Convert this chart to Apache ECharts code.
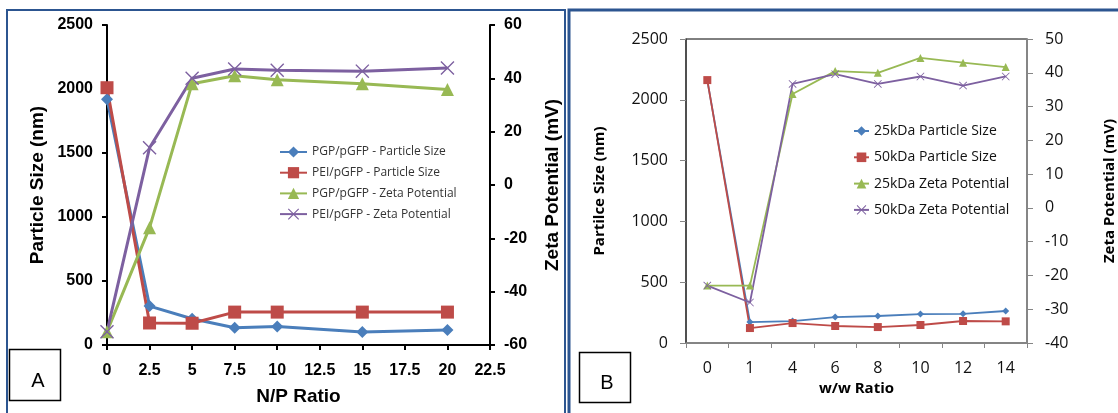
<!DOCTYPE html>
<html>
<head>
<meta charset="utf-8">
<script src="https://cdn.jsdelivr.net/npm/echarts@6/dist/echarts.min.js"></script>
<style>
  html, body { margin: 0; padding: 0; background: #fff; }
  #main { width: 1118px; height: 413px; }
</style>
</head>
<body>
<div id="main"></div>
<script>
// Panel A - N/P ratio
var npRatio = [0, 2.5, 5, 7.5, 10, 15, 20];
var pgpSize = [1920, 304, 205, 135, 145, 101, 117];
var peiSize = [2010, 172, 170, 257, 257, 257, 257];
var pgpZeta = [-55, -16, 38, 41, 39.5, 38, 35.8];
var peiZeta = [-55, 14, 40, 43.5, 43, 42.7, 43.9];

// Panel B - w/w ratio
var wwRatio = ['0', '1', '4', '6', '8', '10', '12', '14'];
var kda25Size = [2160, 172, 180, 213, 222, 238, 240, 263];
var kda50Size = [2162, 123, 164, 140, 131, 148, 181, 178];
var kda25Zeta = [-23, -23, 33.7, 40.5, 40, 44.4, 43, 41.7];
var kda50Zeta = [-23, -28, 36.7, 39.6, 36.7, 38.9, 36.2, 38.9];

var namesA = ['PGP/pGFP - Particle Size', 'PEI/pGFP - Particle Size', 'PGP/pGFP - Zeta Potential', 'PEI/pGFP - Zeta Potential'];
var namesB = ['25kDa Particle Size', '50kDa Particle Size', '25kDa Zeta Potential', '50kDa Zeta Potential'];

var blue = '#4a7ebb', red = '#be4b48', green = '#98b954', purple = '#7d60a0';
var xMark = 'path://M0,0.7 L0.7,0 L5,4.3 L9.3,0 L10,0.7 L5.7,5 L10,9.3 L9.3,10 L5,5.7 L0.7,10 L0,9.3 L4.3,5 Z';

function pairs(xs, ys) {
    return xs.map(function (x, i) { return [x, ys[i]]; });
}
function plain(v) { return String(v); }

var dom = document.getElementById('main');
var myChart = echarts.init(dom);

var boldA = { fontFamily: 'Liberation Sans', fontWeight: 'bold', color: '#000', formatter: plain };
var fontB = 'Open Sans';

option = {
    animation: false,
    backgroundColor: '#fff',
    graphic: [
        { type: 'rect', shape: { x: 7, y: 10, width: 558, height: 420 }, style: { fill: 'none', stroke: '#2c5590', lineWidth: 2 } },
        { type: 'rect', shape: { x: 569, y: 10, width: 560, height: 420 }, style: { fill: 'none', stroke: '#2c5590', lineWidth: 3 } },
        { type: 'rect', shape: { x: 9.5, y: 349.5, width: 51, height: 51 }, style: { fill: '#fff', stroke: '#000', lineWidth: 1.5 } },
        { type: 'text', x: 38, y: 381, style: { text: 'A', font: '20px Liberation Sans', fill: '#000', align: 'center', verticalAlign: 'middle' } },
        { type: 'rect', shape: { x: 579.5, y: 352.5, width: 51, height: 50 }, style: { fill: '#fff', stroke: '#000', lineWidth: 1.5 } },
        { type: 'text', x: 607, y: 383, style: { text: 'B', font: '20px Liberation Sans', fill: '#000', align: 'center', verticalAlign: 'middle' } }
    ],
    legend: [
        {
            data: namesA,
            orient: 'vertical',
            left: 274,
            top: 141,
            itemWidth: 27,
            itemHeight: 14,
            itemGap: 8.7,
            textStyle: { fontFamily: fontB, fontSize: 12, color: '#333' }
        },
        {
            data: namesB,
            orient: 'vertical',
            left: 848,
            top: 119,
            itemWidth: 15,
            itemHeight: 12,
            itemGap: 12.3,
            textStyle: { fontFamily: fontB, fontSize: 14, color: '#111' }
        }
    ],
    grid: [
        { left: 107, top: 25, width: 383, height: 320 },
        { left: 686, top: 39, width: 342, height: 304, show: true, borderColor: '#000', borderWidth: 1 }
    ],
    xAxis: [
        {
            gridIndex: 0,
            type: 'value',
            min: 0, max: 22.5, interval: 2.5,
            name: 'N/P Ratio',
            nameLocation: 'middle',
            nameGap: 42,
            nameTextStyle: { fontFamily: 'Liberation Sans', fontWeight: 'bold', fontSize: 19, color: '#000' },
            axisLine: { show: true, onZero: false, lineStyle: { color: '#000', width: 2 } },
            axisTick: { show: true, length: 5, lineStyle: { color: '#000', width: 2 } },
            axisLabel: Object.assign({ fontSize: 16, margin: 18 }, boldA),
            splitLine: { show: false }
        },
        {
            gridIndex: 1,
            type: 'category',
            data: wwRatio,
            boundaryGap: true,
            name: 'w/w Ratio',
            nameLocation: 'middle',
            nameGap: 38,
            nameTextStyle: { fontFamily: fontB, fontWeight: 'bold', fontSize: 15, color: '#000' },
            axisLine: { show: true, onZero: false, lineStyle: { color: '#868686', width: 1.5 } },
            axisTick: { show: true, length: 5, alignWithLabel: false, lineStyle: { color: '#868686' } },
            axisLabel: { fontFamily: fontB, fontSize: 16, color: '#111', margin: 17 },
            splitLine: { show: false }
        }
    ],
    yAxis: [
        {
            gridIndex: 0,
            type: 'value',
            min: 0, max: 2500, interval: 500,
            name: 'Particle Size (nm)',
            nameLocation: 'middle',
            nameRotate: 90,
            nameGap: 60,
            nameTextStyle: { fontFamily: 'Liberation Sans', fontWeight: 'bold', fontSize: 19, color: '#000' },
            axisLine: { show: true, lineStyle: { color: '#000', width: 2 } },
            axisTick: { show: true, length: 5, lineStyle: { color: '#000', width: 2 } },
            axisLabel: Object.assign({ fontSize: 16, margin: 14 }, boldA),
            splitLine: { show: false }
        },
        {
            gridIndex: 0,
            type: 'value',
            position: 'right',
            min: -60, max: 60, interval: 20,
            name: 'Zeta Potential (mV)',
            nameLocation: 'middle',
            nameRotate: 90,
            nameGap: 53,
            nameTextStyle: { fontFamily: 'Liberation Sans', fontWeight: 'bold', fontSize: 19, color: '#000' },
            axisLine: { show: true, lineStyle: { color: '#000', width: 2 } },
            axisTick: { show: true, length: 5, lineStyle: { color: '#000', width: 2 } },
            axisLabel: Object.assign({ fontSize: 16, margin: 14 }, boldA),
            splitLine: { show: false }
        },
        {
            gridIndex: 1,
            type: 'value',
            min: 0, max: 2500, interval: 500,
            name: 'Partilce Size (nm)',
            nameLocation: 'middle',
            nameRotate: 90,
            nameGap: 79,
            nameTextStyle: { fontFamily: fontB, fontWeight: 'bold', fontSize: 15, color: '#000' },
            axisLine: { show: true, lineStyle: { color: '#404040', width: 1.5 } },
            axisTick: { show: true, length: 6, lineStyle: { color: '#868686' } },
            axisLabel: { fontFamily: fontB, fontSize: 16, color: '#111', margin: 18, formatter: plain },
            splitLine: { show: false }
        },
        {
            gridIndex: 1,
            type: 'value',
            position: 'right',
            min: -40, max: 50, interval: 10,
            name: 'Zeta Potential (mV)',
            nameLocation: 'middle',
            nameRotate: 90,
            nameGap: 75,
            nameTextStyle: { fontFamily: fontB, fontWeight: 'bold', fontSize: 15, color: '#000' },
            axisLine: { show: true, lineStyle: { color: '#868686', width: 2 } },
            axisTick: { show: true, length: 6, lineStyle: { color: '#868686' } },
            axisLabel: { fontFamily: fontB, fontSize: 16, color: '#111', margin: 18, formatter: plain },
            splitLine: { show: false }
        }
    ],
    series: [
        { name: namesA[0], type: 'line', xAxisIndex: 0, yAxisIndex: 0, data: pairs(npRatio, pgpSize),
          symbol: 'diamond', symbolSize: 12, color: blue, lineStyle: { width: 3 } },
        { name: namesA[1], type: 'line', xAxisIndex: 0, yAxisIndex: 0, data: pairs(npRatio, peiSize),
          symbol: 'rect', symbolSize: 13, color: red, lineStyle: { width: 3 } },
        { name: namesA[2], type: 'line', xAxisIndex: 0, yAxisIndex: 1, data: pairs(npRatio, pgpZeta),
          symbol: 'triangle', symbolSize: 13, color: green, lineStyle: { width: 3 } },
        { name: namesA[3], type: 'line', xAxisIndex: 0, yAxisIndex: 1, data: pairs(npRatio, peiZeta),
          symbol: xMark, symbolSize: 14, color: purple, lineStyle: { width: 3 } },

        { name: namesB[0], type: 'line', xAxisIndex: 1, yAxisIndex: 2, data: kda25Size,
          symbol: 'diamond', symbolSize: 7, color: blue, lineStyle: { width: 1.8 } },
        { name: namesB[1], type: 'line', xAxisIndex: 1, yAxisIndex: 2, data: kda50Size,
          symbol: 'rect', symbolSize: 8, color: red, lineStyle: { width: 1.8 } },
        { name: namesB[2], type: 'line', xAxisIndex: 1, yAxisIndex: 3, data: kda25Zeta,
          symbol: 'triangle', symbolSize: 8, color: green, lineStyle: { width: 1.8 } },
        { name: namesB[3], type: 'line', xAxisIndex: 1, yAxisIndex: 3, data: kda50Zeta,
          symbol: xMark, symbolSize: 8, color: purple, lineStyle: { width: 1.8 } }
    ]
};

if (option && typeof option === "object") {
    myChart.setOption(option, true);
}
</script>
</body>
</html>
